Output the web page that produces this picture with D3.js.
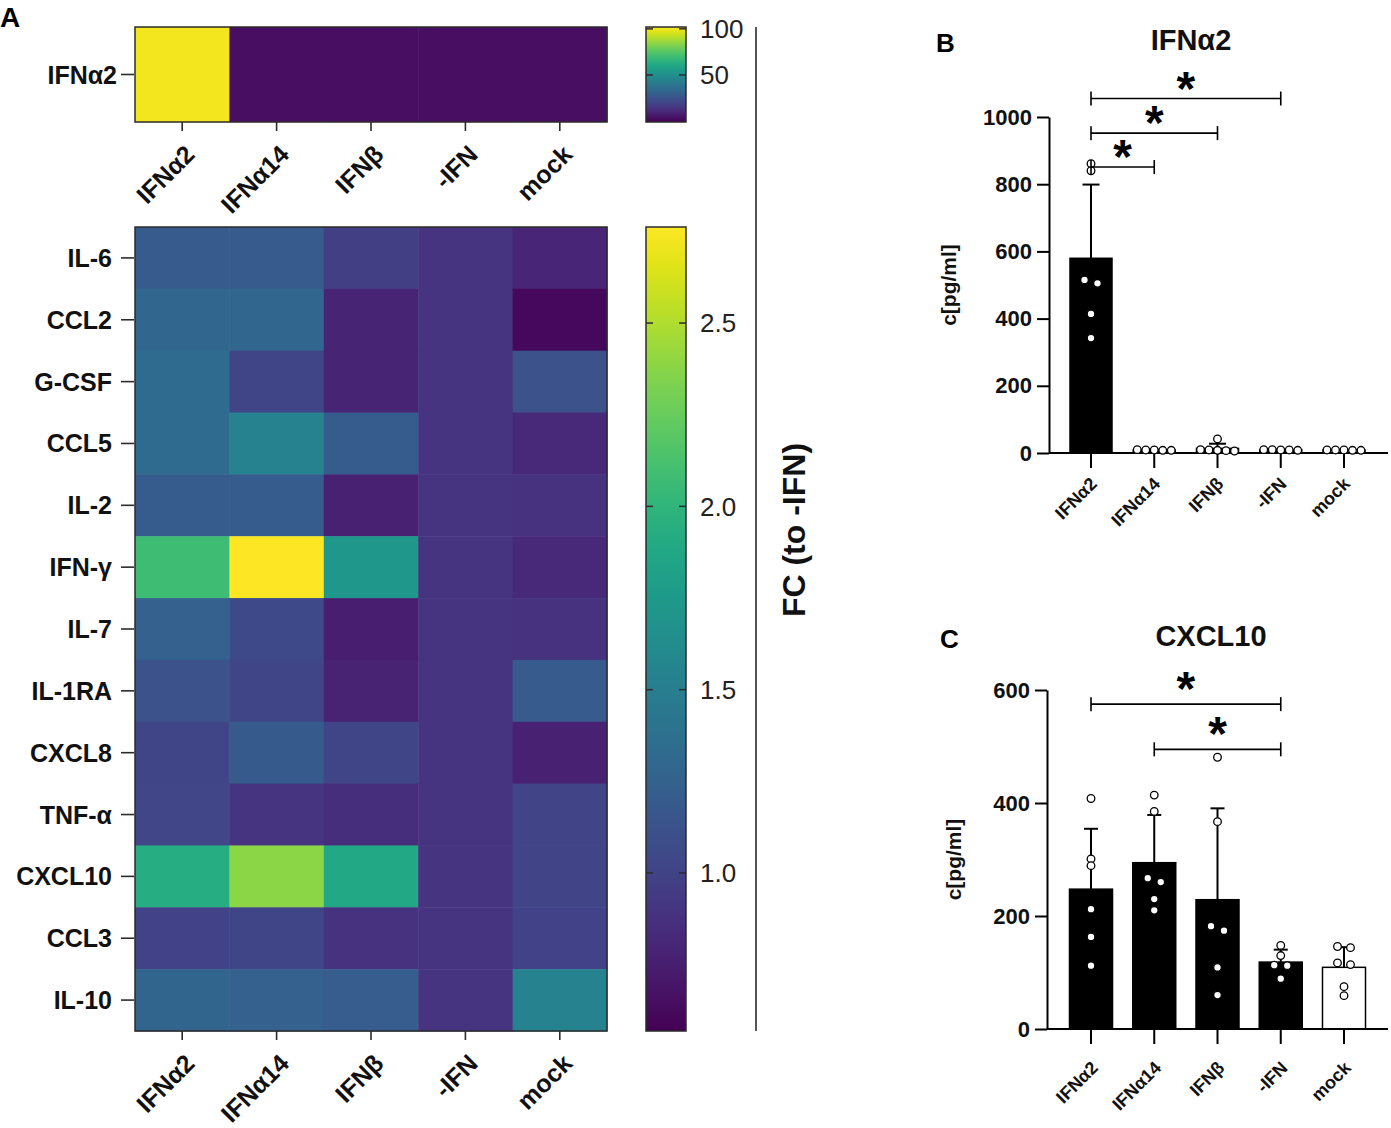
<!DOCTYPE html>
<html>
<head>
<meta charset="utf-8">
<script src="https://cdn.jsdelivr.net/npm/d3@7"></script>
<style>
  html, body { margin: 0; padding: 0; background: #fff; }
  svg { display: block; font-family: "Liberation Sans", Arial, Helvetica, sans-serif; }
</style>
</head>
<body>
<svg id="chart" width="1391" height="1128"></svg>
<script>
// ---------------- DATA ----------------
const columns = ["IFNα2", "IFNα14", "IFNβ", "-IFN", "mock"];
const cytokines = ["IL-6", "CCL2", "G-CSF", "CCL5", "IL-2", "IFN-γ", "IL-7", "IL-1RA", "CXCL8", "TNF-α", "CXCL10", "CCL3", "IL-10"];
const fcMatrix = [
  [1.19, 1.19, 0.98, 0.90, 0.80],
  [1.29, 1.29, 0.79, 0.90, 0.62],
  [1.33, 1.02, 0.79, 0.90, 1.12],
  [1.33, 1.53, 1.20, 0.90, 0.82],
  [1.20, 1.20, 0.77, 0.90, 0.88],
  [2.08, 2.76, 1.73, 0.90, 0.82],
  [1.24, 1.05, 0.75, 0.90, 0.88],
  [1.12, 1.02, 0.78, 0.90, 1.19],
  [1.02, 1.18, 1.02, 0.90, 0.77],
  [1.03, 0.90, 0.86, 0.90, 1.01],
  [1.93, 2.38, 1.88, 0.90, 1.01],
  [1.00, 1.02, 0.88, 0.90, 1.00],
  [1.28, 1.24, 1.21, 0.90, 1.53]
];
const fcDomain = [0.569, 2.762];
const fcTicks = [1.0, 1.5, 2.0, 2.5];

const topRow = ["IFNα2"];
const topValues = [100, 3, 3, 3, 3];
const topDomain = [-1, 102];
const topTicks = [50, 100];

// Panel B: IFNα2 concentration, individual donors per condition
const ifna2Points = [
  [861, 840, 515, 505, 414, 342],
  [9, 8, 10, 9, 8],
  [42, 9, 7, 8, 6, 10],
  [9, 10, 8, 9, 10],
  [8, 9, 9, 8, 9]
];
const yTicksB = [0, 200, 400, 600, 800, 1000];
const sigB = [
  ["IFNα2", "IFNα14", 851],
  ["IFNα2", "IFNβ", 952],
  ["IFNα2", "-IFN", 1055]
];

// Panel C: CXCL10 concentration
const cxcl10Points = [
  [408, 301, 289, 212, 163, 112],
  [414, 385, 267, 260, 230, 210],
  [481, 367, 182, 174, 109, 60],
  [148, 130, 113, 112, 89],
  [146, 144, 117, 114, 75, 59]
];
const yTicksC = [0, 200, 400, 600];
const sigC = [
  ["IFNα2", "-IFN", 575],
  ["IFNα14", "-IFN", 495]
];

// ---------------- DRAWING ----------------
const svg = d3.select("#chart");
const FONT = '"Liberation Sans", Arial, Helvetica, sans-serif';
const dark = "#2b2b2b";

// panel letters
svg.append("text").attr("x", 0).attr("y", 27).attr("font-size", 28).attr("font-weight", "bold").text("A");
svg.append("text").attr("x", 936).attr("y", 52).attr("font-size", 26).attr("font-weight", "bold").text("B");
svg.append("text").attr("x", 940).attr("y", 648).attr("font-size", 26).attr("font-weight", "bold").text("C");

// ---- Heatmaps ----
const hx = d3.scaleBand().domain(columns).range([135, 607]);
const hyTop = d3.scaleBand().domain(topRow).range([27, 122]);
const hy = d3.scaleBand().domain(cytokines).range([227, 1031]);
const fcColor = d3.scaleSequential(d3.interpolateViridis).domain(fcDomain);
const topColor = d3.scaleSequential(d3.interpolateViridis).domain(topDomain);

// top heatmap
const gTop = svg.append("g");
gTop.selectAll("rect").data(columns.map((c, i) => ({c, v: topValues[i]})))
  .join("rect")
  .attr("x", d => hx(d.c)).attr("y", hyTop("IFNα2"))
  .attr("width", hx.bandwidth() + 0.5).attr("height", hyTop.bandwidth())
  .attr("fill", d => topColor(d.v));
gTop.append("rect").attr("x", 135).attr("y", 27).attr("width", 472).attr("height", 95)
  .attr("fill", "none").attr("stroke", dark).attr("stroke-width", 1.5);

// main heatmap
const cells = [];
cytokines.forEach((r, i) => columns.forEach((c, j) => cells.push({r, c, v: fcMatrix[i][j]})));
const gMain = svg.append("g");
gMain.selectAll("rect").data(cells).join("rect")
  .attr("x", d => hx(d.c)).attr("y", d => hy(d.r))
  .attr("width", hx.bandwidth() + 0.5).attr("height", hy.bandwidth() + 0.5)
  .attr("fill", d => fcColor(d.v));
gMain.append("rect").attr("x", 135).attr("y", 227).attr("width", 472).attr("height", 804)
  .attr("fill", "none").attr("stroke", dark).attr("stroke-width", 1.5);

// row axis labels
function rowAxis(scale, xEnd) {
  const g = svg.append("g");
  scale.domain().forEach(r => {
    const y = scale(r) + scale.bandwidth() / 2;
    g.append("line").attr("x1", 121).attr("x2", 134).attr("y1", y).attr("y2", y)
      .attr("stroke", dark).attr("stroke-width", 1.6);
    g.append("text").attr("x", xEnd).attr("y", y).attr("dy", "0.36em")
      .attr("text-anchor", "end").attr("font-size", 25).attr("font-weight", "bold")
      .attr("fill", "#111").text(r);
  });
}
rowAxis(hyTop, 117);
rowAxis(hy, 112);

// column axis labels
function colAxis(yEdge, dx, dy) {
  const g = svg.append("g");
  columns.forEach(c => {
    const x = hx(c) + hx.bandwidth() / 2;
    g.append("line").attr("x1", x).attr("x2", x).attr("y1", yEdge).attr("y2", yEdge + 9)
      .attr("stroke", dark).attr("stroke-width", 1.6);
    g.append("text").attr("transform", `translate(${x + dx},${yEdge + dy}) rotate(-45)`)
      .attr("text-anchor", "end").attr("font-size", 25).attr("font-weight", "bold")
      .attr("fill", "#111").text(c);
  });
}
colAxis(122, 14, 34);
colAxis(1031, 14, 34);

// colorbars
const defs = svg.append("defs");
function colorbar(id, colorScale, domain, y0, y1, ticks, fmt) {
  const grad = defs.append("linearGradient").attr("id", id)
    .attr("x1", 0).attr("y1", 1).attr("x2", 0).attr("y2", 0);
  d3.range(0, 1.0001, 0.05).forEach(t => {
    grad.append("stop").attr("offset", t)
      .attr("stop-color", colorScale(domain[0] + t * (domain[1] - domain[0])));
  });
  const ys = d3.scaleLinear().domain(domain).range([y1, y0]);
  svg.append("rect").attr("x", 646).attr("y", y0).attr("width", 40).attr("height", y1 - y0)
    .attr("fill", `url(#${id})`).attr("stroke", dark).attr("stroke-width", 1.5);
  ticks.forEach(t => {
    const y = ys(t);
    svg.append("line").attr("x1", 646).attr("x2", 653).attr("y1", y).attr("y2", y).attr("stroke", dark).attr("stroke-width", 1.5);
    svg.append("line").attr("x1", 679).attr("x2", 686).attr("y1", y).attr("y2", y).attr("stroke", dark).attr("stroke-width", 1.5);
    svg.append("text").attr("x", 700).attr("y", y).attr("dy", "0.36em")
      .attr("font-size", 26).attr("fill", "#222").text(fmt(t));
  });
}
colorbar("gradTop", topColor, topDomain, 27, 122, topTicks, d3.format("d"));
colorbar("gradMain", fcColor, fcDomain, 227, 1031, fcTicks, d3.format(".1f"));

// separator + colorbar title
svg.append("line").attr("x1", 756).attr("x2", 756).attr("y1", 27).attr("y2", 1031)
  .attr("stroke", dark).attr("stroke-width", 1.6);
svg.append("text").attr("transform", "translate(793,530) rotate(-90)")
  .attr("text-anchor", "middle").attr("dy", "0.36em")
  .attr("font-size", 32).attr("font-weight", "bold").attr("fill", "#111").text("FC (to -IFN)");

// ---- Bar panels ----
function dodge(values, yScale, thresh, step, pairStep) {
  const pts = values.map(v => ({v, y: yScale(v)})).sort((a, b) => a.y - b.y);
  const groups = [];
  let cur = [pts[0]];
  for (let i = 1; i < pts.length; i++) {
    if (pts[i].y - pts[i - 1].y < thresh) cur.push(pts[i]);
    else { groups.push(cur); cur = [pts[i]]; }
  }
  groups.push(cur);
  groups.forEach(g => g.forEach((p, i) => {
    p.dx = g.length === 2 ? (i - 0.5) * pairStep : (i - (g.length - 1) / 2) * step;
  }));
  return pts;
}

function barPanel(opt) {
  const g = svg.append("g");
  const x = d3.scalePoint().domain(columns).range([1091, 1344]);
  const y = d3.scaleLinear().domain([0, opt.yMax]).range([opt.yBottom, opt.yTop]);

  // title
  g.append("text").attr("x", opt.titleX).attr("y", opt.titleY).attr("text-anchor", "middle")
    .attr("font-size", 29).attr("font-weight", "bold").attr("fill", "#111").text(opt.title);

  // bars
  const stats = columns.map((c, i) => ({
    c, i, mean: d3.mean(opt.points[i]), sd: d3.deviation(opt.points[i])
  }));
  g.selectAll("rect.bar").data(stats).join("rect").attr("class", "bar")
    .attr("x", d => x(d.c) - opt.barW / 2).attr("width", opt.barW)
    .attr("y", d => y(d.mean)).attr("height", d => y(0) - y(d.mean))
    .attr("fill", d => d.c === "mock" ? "#fff" : "#000")
    .attr("stroke", "#000").attr("stroke-width", 1.5);

  // error bars (upper)
  stats.forEach(d => {
    const top = y(d.mean + d.sd);
    g.append("line").attr("x1", x(d.c)).attr("x2", x(d.c)).attr("y1", y(d.mean)).attr("y2", top)
      .attr("stroke", "#000").attr("stroke-width", 2);
    g.append("line").attr("x1", x(d.c) - opt.capW / 2).attr("x2", x(d.c) + opt.capW / 2)
      .attr("y1", top).attr("y2", top).attr("stroke", "#000").attr("stroke-width", 2);
  });

  // axes
  const yAxis = d3.axisLeft(y).tickValues(opt.yTicks).tickFormat(d3.format("d"))
    .tickSize(12).tickSizeOuter(0).tickPadding(5);
  const ga = g.append("g").attr("transform", `translate(${opt.axisX},0)`).call(yAxis);
  ga.select(".domain").attr("stroke", "#000").attr("stroke-width", 2);
  ga.selectAll(".tick line").attr("stroke", "#000").attr("stroke-width", 2);
  ga.selectAll(".tick text").attr("font-size", 22).attr("font-weight", "bold")
    .attr("font-family", FONT).attr("fill", "#111");

  g.append("line").attr("x1", opt.axisX).attr("x2", 1388).attr("y1", y(0)).attr("y2", y(0))
    .attr("stroke", "#000").attr("stroke-width", 2);
  columns.forEach(c => {
    g.append("line").attr("x1", x(c)).attr("x2", x(c)).attr("y1", y(0)).attr("y2", y(0) + 15)
      .attr("stroke", "#000").attr("stroke-width", 2);
    g.append("text").attr("transform", `translate(${x(c) + opt.lblDx},${y(0) + opt.lblDy}) rotate(-45)`)
      .attr("text-anchor", "end").attr("font-size", 18).attr("font-weight", "bold")
      .attr("fill", "#111").text(c);
  });

  // y label
  g.append("text").attr("transform", `translate(${opt.ylabX},${(opt.yTop + opt.yBottom) / 2}) rotate(-90)`)
    .attr("text-anchor", "middle").attr("dy", "0.36em")
    .attr("font-size", 21).attr("font-weight", "bold").attr("fill", "#111").text("c[pg/ml]");

  // points
  columns.forEach((c, i) => {
    const pts = dodge(opt.points[i], y, 6, opt.step, opt.pairStep);
    g.selectAll(null).data(pts).join("circle")
      .attr("cx", p => x(c) + p.dx).attr("cy", p => p.y).attr("r", 3.8)
      .attr("fill", "#fff").attr("stroke", "#000").attr("stroke-width", 1.3);
  });

  // significance brackets
  const starFs = 48;
  opt.sig.forEach(([a, b, v]) => {
    const yy = y(v), x1 = x(a), x2 = x(b);
    g.append("line").attr("x1", x1).attr("x2", x2).attr("y1", yy).attr("y2", yy)
      .attr("stroke", "#000").attr("stroke-width", 1.6);
    [x1, x2].forEach(xx => g.append("line").attr("x1", xx).attr("x2", xx)
      .attr("y1", yy - 7).attr("y2", yy + 7).attr("stroke", "#000").attr("stroke-width", 1.6));
    g.append("text").attr("x", (x1 + x2) / 2).attr("y", yy - opt.starGap + 0.48 * starFs)
      .attr("text-anchor", "middle").attr("font-size", starFs).attr("font-weight", "bold")
      .attr("fill", "#000").text("*");
  });
}

barPanel({
  title: "IFNα2", titleX: 1191, titleY: 50,
  points: ifna2Points, yMax: 1000, yTop: 117, yBottom: 453, yTicks: yTicksB,
  axisX: 1049, barW: 42, capW: 17, step: 8.5, pairStep: 13, lblDx: 7, lblDy: 32, ylabX: 948,
  sig: sigB, starGap: 17
});
barPanel({
  title: "CXCL10", titleX: 1211, titleY: 646,
  points: cxcl10Points, yMax: 600, yTop: 690, yBottom: 1029, yTicks: yTicksC,
  axisX: 1047, barW: 43, capW: 14, step: 12, pairStep: 13, lblDx: 8, lblDy: 40, ylabX: 953,
  sig: sigC, starGap: 22
});
</script>
</body>
</html>
